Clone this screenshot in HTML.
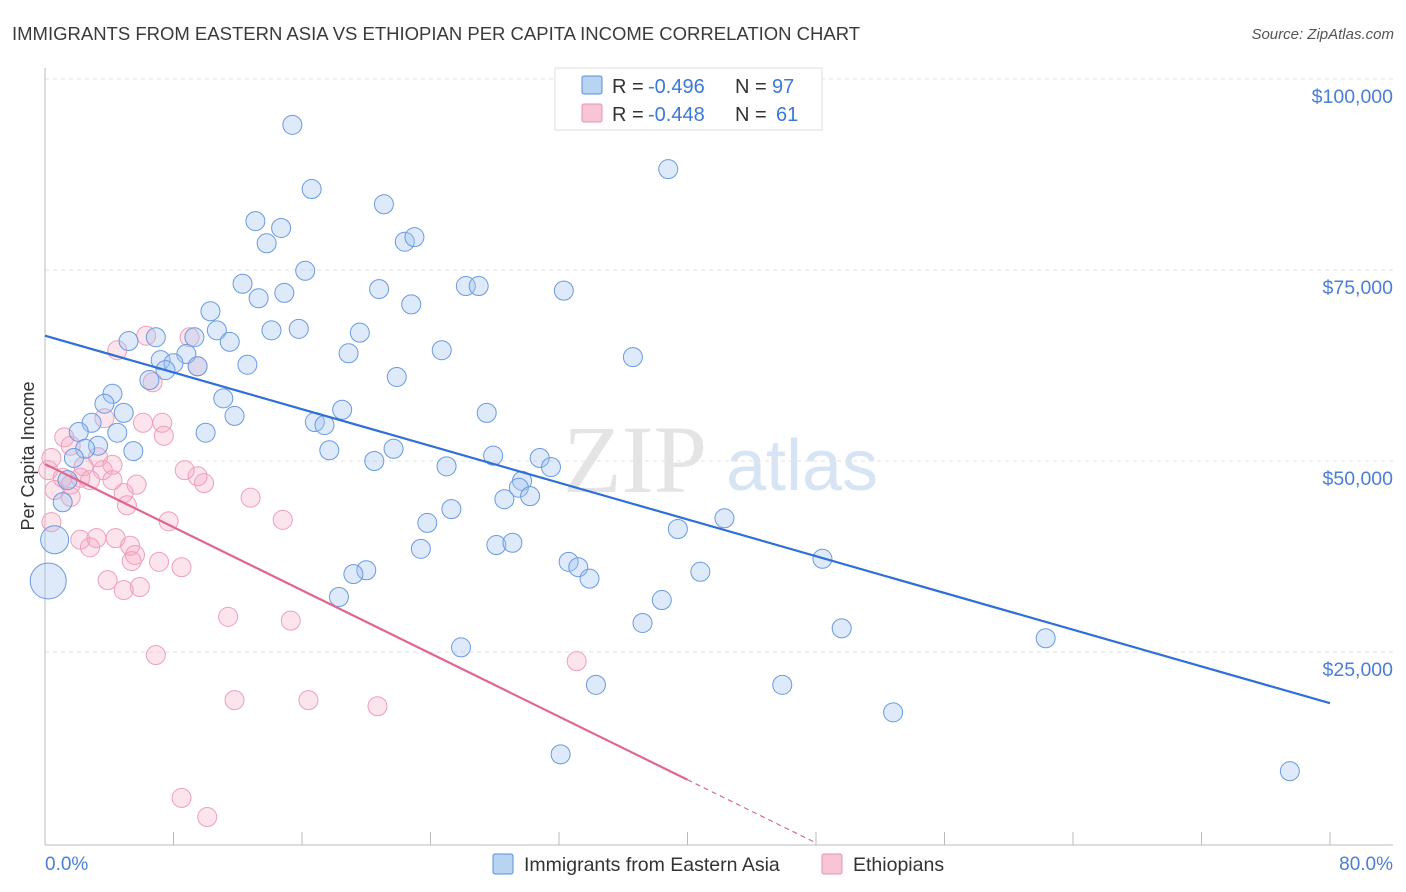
<!DOCTYPE html>
<html><head><meta charset="utf-8"><style>
body{margin:0;background:#fff;font-family:"Liberation Sans",sans-serif;}
#wrap{position:relative;width:1406px;height:892px;overflow:hidden;}
</style></head><body>
<div id="wrap">
<svg id="svg" width="1406" height="892" xmlns="http://www.w3.org/2000/svg">
<text x="12" y="40" font-size="18.5" fill="#3a3a3a">IMMIGRANTS FROM EASTERN ASIA VS ETHIOPIAN PER CAPITA INCOME CORRELATION CHART</text>
<text x="1394" y="39" font-size="15" fill="#555" font-style="italic" text-anchor="end">Source: ZipAtlas.com</text>
<text x="635" y="492" font-size="96" fill="#e4e4e4" font-family="Liberation Serif,serif" text-anchor="middle">ZIP</text>
<text x="802" y="490" font-size="72" fill="#d6e4f4" text-anchor="middle">atlas</text>
<g id="grid"></g><g id="axes"></g><g id="marks"></g><g id="lines"></g>
<text transform="translate(34,456) rotate(-90)" font-size="18" fill="#333" text-anchor="middle">Per Capita Income</text>
<text x="45" y="870" font-size="19" fill="#4a7fd4">0.0%</text>
<text x="1393" y="870" font-size="19" fill="#4a7fd4" text-anchor="end">80.0%</text>
<g>
<rect x="555" y="68" width="267" height="62" fill="#fff" stroke="#ddd"/>
<rect x="582" y="76" width="20" height="18" fill="#b9d3f3" stroke="#5b8fd9" rx="2"/>
<rect x="582" y="104" width="20" height="18" fill="#f8c5d6" stroke="#e890b0" rx="2"/>
<text x="612" y="93" font-size="20" fill="#333">R =</text>
<text x="648" y="93" font-size="20" fill="#3b78d8">-0.496</text>
<text x="735" y="93" font-size="20" fill="#333">N =</text>
<text x="772" y="93" font-size="20" fill="#3b78d8">97</text>
<text x="612" y="121" font-size="20" fill="#333">R =</text>
<text x="648" y="121" font-size="20" fill="#3b78d8">-0.448</text>
<text x="735" y="121" font-size="20" fill="#333">N =</text>
<text x="776" y="121" font-size="20" fill="#3b78d8">61</text>
</g>
<g>
<rect x="493" y="854" width="20" height="20" fill="#b9d3f3" stroke="#5b8fd9" rx="2"/>
<text x="524" y="871" font-size="19.5" fill="#333">Immigrants from Eastern Asia</text>
<rect x="822" y="854" width="20" height="20" fill="#f8c5d6" stroke="#e890b0" rx="2"/>
<text x="853" y="871" font-size="19.5" fill="#333">Ethiopians</text>
</g>
</svg>
</div>
<script>
const yTicks=[25000,50000,75000,100000];
const yTickLabels=["$25,000","$50,000","$75,000","$100,000"];
const blueX=[15.4,38.8,16.6,21.1,13.1,14.7,13.8,22.4,23.0,16.2,12.3,13.3,14.9,20.8,22.8,26.2,27.0,32.3,10.3,10.7,14.1,15.8,11.5,19.6,18.9,24.7,36.6,5.2,6.9,9.3,8.8,7.2,8.0,7.5,12.6,9.5,6.5,21.9,4.2,3.7,11.1,4.9,11.8,27.5,18.5,16.8,17.4,2.9,4.5,10.0,2.1,3.3,5.5,17.7,21.7,2.5,1.8,20.5,25.0,30.8,31.5,27.9,29.7,29.5,30.2,28.6,1.4,1.1,25.3,23.8,39.4,42.3,28.1,29.1,23.4,32.6,33.2,33.9,20.0,19.2,40.8,38.4,18.3,48.4,37.2,49.6,62.3,25.9,34.3,45.9,52.8,32.1,77.5,0.6,0.2];
const blueY=[94.0,88.2,85.6,83.6,81.4,80.5,78.5,78.7,79.3,74.9,73.2,71.3,72.0,72.5,70.5,72.9,72.9,72.3,69.6,67.1,67.1,67.3,65.6,66.8,64.1,64.5,63.6,65.7,66.2,66.2,64.0,63.2,62.8,61.9,62.6,62.4,60.6,61.0,58.8,57.5,58.2,56.3,55.9,56.3,56.7,55.1,54.7,55.0,53.7,53.7,53.8,52.0,51.3,51.4,51.6,51.6,50.4,50.0,49.3,50.4,49.2,50.7,47.4,46.5,45.4,45.0,47.5,44.6,43.7,41.9,41.1,42.5,39.0,39.3,38.5,36.8,36.1,34.6,35.7,35.2,35.5,31.8,32.2,37.2,28.8,28.1,26.8,25.6,20.7,20.7,17.1,11.6,9.4,39.7,34.3];
const pinkX=[4.5,6.3,9.0,9.5,6.7,3.7,6.1,7.3,7.4,1.2,1.6,3.3,4.2,2.4,3.6,1.1,2.2,2.8,0.6,1.6,4.9,5.7,8.7,9.5,9.9,4.2,1.6,12.8,7.7,5.1,0.4,2.2,3.2,4.4,5.3,5.6,5.4,2.8,7.1,8.5,14.8,3.9,5.9,4.9,11.4,15.3,6.9,33.1,11.8,16.4,20.7,8.5,10.1,0.2,0.4];
const pinkY=[64.5,66.4,66.2,62.4,60.3,55.6,55.0,55.0,53.3,53.1,52.0,50.5,49.5,49.3,48.8,47.8,47.8,47.5,46.2,45.3,45.8,46.9,48.8,48.0,47.1,47.5,46.9,45.2,42.1,44.2,42.0,39.7,39.9,39.9,38.9,37.7,36.9,38.7,36.8,36.1,42.3,34.4,33.5,33.1,29.6,29.1,24.6,23.8,18.7,18.7,17.9,5.9,3.4,48.8,50.4];
const blueTrend=[66.4,18.3];
const pinkTrend=[49.6,-1.033];
const pinkSolidEnd=40;
const NS="http://www.w3.org/2000/svg";
const X=v=>45+v/80*1285;
const Y=v=>843-v/25000*191;
const Yk=v=>Y(v*1000);
function mk(t,a,p){const e=document.createElementNS(NS,t);for(const k in a)e.setAttribute(k,a[k]);p.appendChild(e);return e;}
const grid=document.getElementById('grid'),axes=document.getElementById('axes'),marks=document.getElementById('marks'),lines=document.getElementById('lines');
yTicks.forEach((t,i)=>{
 const g=mk('line',{x1:45,x2:1393,y1:Y(t),y2:Y(t),stroke:'#e2e2e2','stroke-dasharray':'4,4'},grid);
 
 
 const l=mk('text',{x:1393,y:Y(t)+24,'font-size':19.5,fill:'#4a7fd4','text-anchor':'end'},axes);
 l.textContent=yTickLabels[i];
 
 
});
const ax=mk('line',{x1:45,x2:45,y1:68,y2:845,stroke:'#bbb'},axes);


const bx=mk('line',{x1:45,x2:1393,y1:845,y2:845,stroke:'#bbb'},axes);


for(let i=0;i<=10;i++){const t=mk('line',{x1:X(i*8),x2:X(i*8),y1:832,y2:845,stroke:'#bbb'},axes);
 
 }
pinkX.forEach((v,i)=>{const c=mk('circle',{cx:X(v),cy:Yk(pinkY[i]),r:9.5,fill:'rgba(245,165,192,0.3)',stroke:'#ee9fbb','stroke-width':1},marks);
 
 });
blueX.forEach((v,i)=>{const r=i==blueX.length-1?18:(i==blueX.length-2?14:9.5);
 const c=mk('circle',{cx:X(v),cy:Yk(blueY[i]),r:r,fill:'rgba(160,196,240,0.35)',stroke:'#6a9adf','stroke-width':1},marks);
 
 });
const bl=mk('line',{x1:X(0),y1:Yk(blueTrend[0]),x2:X(80),y2:Yk(blueTrend[1]),stroke:'#2f6fd6','stroke-width':2.2},lines);


const pEnd=-pinkTrend[0]/pinkTrend[1];
const pl=mk('line',{x1:X(0),y1:Yk(pinkTrend[0]),x2:X(pinkSolidEnd),y2:Yk(pinkTrend[0]+pinkTrend[1]*pinkSolidEnd),stroke:'#e06690','stroke-width':2.2},lines);


const pd=mk('line',{x1:X(pinkSolidEnd),y1:Yk(pinkTrend[0]+pinkTrend[1]*pinkSolidEnd),x2:X(pEnd),y2:Yk(0),stroke:'#e06690','stroke-width':1.2,'stroke-dasharray':'5,4'},lines);


</script>
</body></html>
